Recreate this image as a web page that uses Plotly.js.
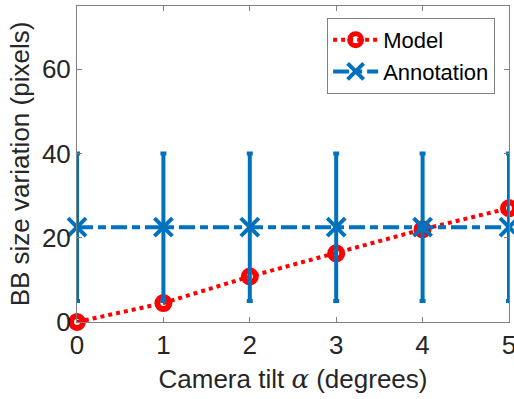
<!DOCTYPE html>
<html><head><meta charset="utf-8">
<script src="https://cdn.plot.ly/plotly-3.0.1.min.js"></script>
<style>html,body{margin:0;padding:0;background:#fff}</style>
</head><body>
<div id="chart" style="width:514px;height:399px"></div>
<script>
const tilt = [0, 1, 2, 3, 4, 5];
const modelValues = [0, 4.5, 10.8, 16.3, 22, 27];
const annotationMean = [22.5, 22.5, 22.5, 22.5, 22.5, 22.5];
const annotationErr = [17.5, 17.5, 17.5, 17.5, 17.5, 17.5];
const xTicks = [0, 1, 2, 3, 4, 5];
const yTicks = [0, 20, 40, 60];

const traces = [
  {
    x: tilt, y: modelValues, name: 'Model', type: 'scatter', mode: 'lines+markers',
    line: {color: '#FF0000', width: 4, dash: 'dot'},
    marker: {symbol: 'circle-open', size: 12, color: '#FF0000', line: {color: '#FF0000', width: 6}},
    cliponaxis: false
  },
  {
    x: tilt, y: annotationMean, name: 'Annotation', type: 'scatter', mode: 'lines+markers',
    line: {color: '#0072BD', width: 4, dash: '16px,5px,8px,5px'},
    marker: {symbol: 'x-thin-open', size: 18, color: '#0072BD', line: {color: '#0072BD', width: 4}},
    error_y: {type: 'data', array: annotationErr, visible: true, color: '#0072BD', thickness: 4, width: 3},
    cliponaxis: false
  }
];

const axisFont = {family: 'Liberation Sans, Arial, sans-serif', size: 26, color: '#262626'};
const layout = {
  width: 514, height: 399,
  margin: {l: 77, r: 5, t: 6, b: 77},
  paper_bgcolor: '#fff', plot_bgcolor: '#fff',
  font: axisFont,
  showlegend: true,
  legend: {
    x: 0.579, y: 0.962, xanchor: 'left', yanchor: 'top',
    bgcolor: '#fff', bordercolor: '#808080', borderwidth: 1,
    font: {family: 'Liberation Sans, Arial, sans-serif', size: 22, color: '#000'},
    itemwidth: 45, tracegroupgap: 0
  },
  xaxis: {
    range: [0, 5], tickvals: xTicks, ticktext: xTicks.map(String),
    ticks: 'inside', ticklen: 5, tickcolor: '#808080', tickwidth: 1,
    showline: true, linecolor: '#808080', linewidth: 1, mirror: 'ticks',
    showgrid: false, zeroline: false, tickfont: axisFont, ticklabeloverflow: 'allow',
    title: {text: 'Camera tilt <span style="font-family:DejaVu Serif, serif;font-style:italic">α</span> (degrees)', font: axisFont, standoff: 10}
  },
  yaxis: {
    range: [0, 75], tickvals: yTicks, ticktext: yTicks.map(String),
    ticks: 'inside', ticklen: 5, tickcolor: '#808080', tickwidth: 1,
    showline: true, linecolor: '#808080', linewidth: 1, mirror: 'ticks',
    showgrid: false, zeroline: false, tickfont: axisFont,
    title: {text: 'BB size variation (pixels)', font: axisFont, standoff: 4}
  }
};
Plotly.newPlot('chart', traces, layout, {displayModeBar: false, staticPlot: true});
</script>
</body></html>
